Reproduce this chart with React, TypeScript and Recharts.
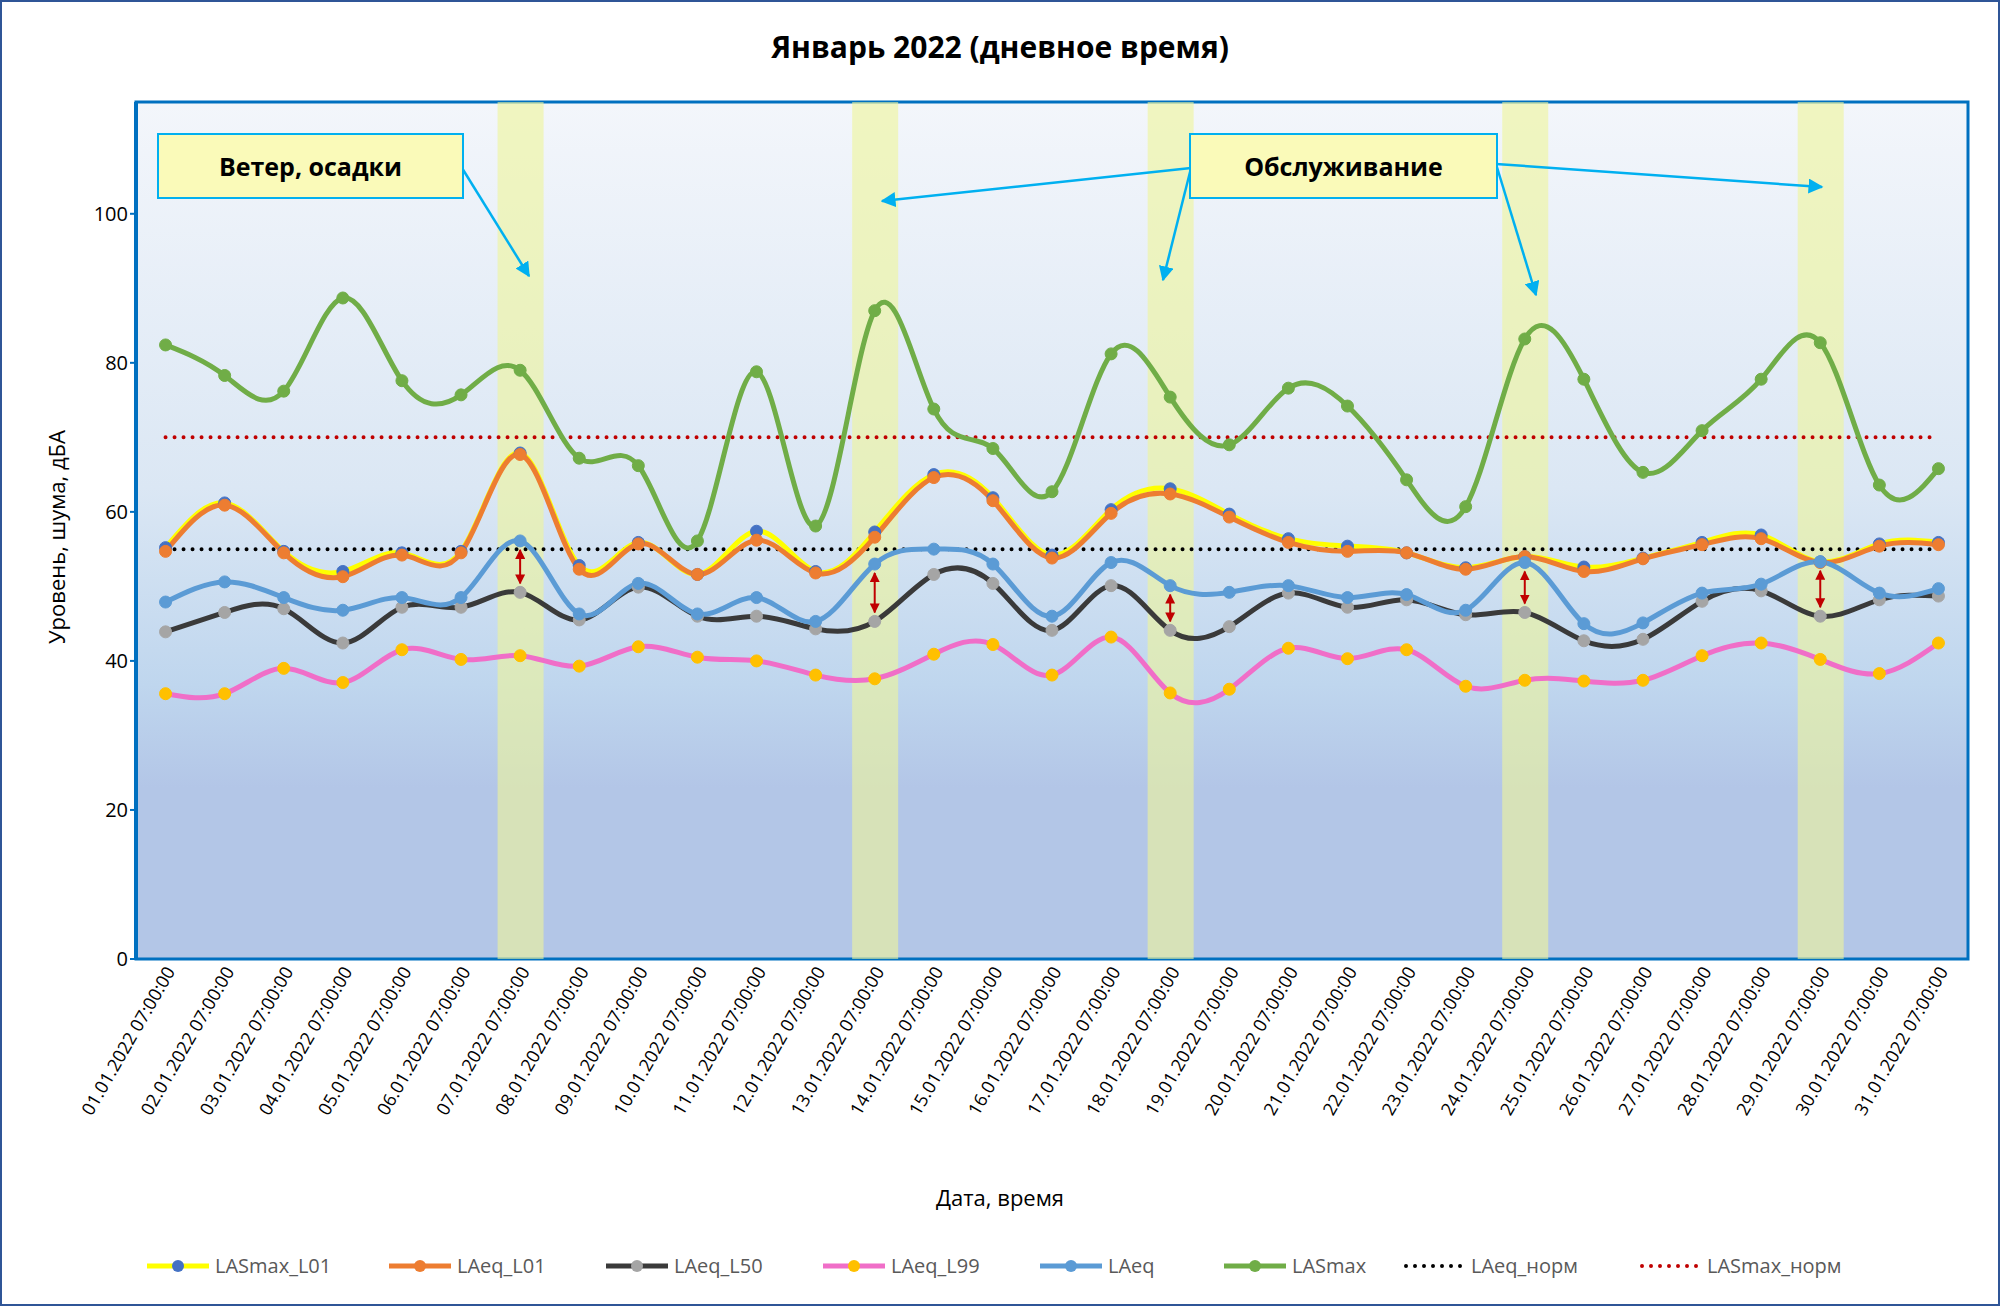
import React from "react";
import {
  ComposedChart,
  Line,
  Bar,
  XAxis,
  YAxis,
  CartesianGrid,
  ReferenceArea,
  ReferenceLine,
} from "recharts";

const days = Array.from({ length: 31 }, (_, i) => `${String(i + 1).padStart(2, "0")}.01.2022 07:00:00`);

const lasmaxL01 = [55.2, 61.2, 54.7, 52, 54.5, 54.7, 67.9, 52.8, 55.9, 51.6, 57.4, 52, 57.3, 65, 61.9, 54.2, 60.3, 63.1, 59.7, 56.4, 55.4, 54.5, 52.5, 54, 52.6, 53.8, 55.9, 56.9, 53.3, 55.7, 55.9];
const laeqL01 = [54.7, 60.9, 54.5, 51.3, 54.2, 54.5, 67.7, 52.3, 55.7, 51.6, 56.2, 51.8, 56.6, 64.6, 61.5, 53.8, 59.8, 62.4, 59.3, 55.9, 54.7, 54.5, 52.3, 54, 52, 53.7, 55.6, 56.4, 53.2, 55.4, 55.6];
const laeqL50 = [43.9, 46.5, 47, 42.4, 47.2, 47.2, 49.2, 45.5, 49.9, 46, 46, 44.3, 45.3, 51.6, 50.4, 44.1, 50.1, 44.1, 44.6, 49.1, 47.2, 48.2, 46.2, 46.5, 42.7, 42.9, 48, 49.4, 46, 48.2, 48.7];
const laeqL99 = [35.6, 35.6, 39, 37.1, 41.5, 40.2, 40.7, 39.3, 41.9, 40.5, 40, 38.1, 37.6, 40.9, 42.2, 38.1, 43.2, 35.7, 36.2, 41.7, 40.3, 41.5, 36.6, 37.4, 37.3, 37.4, 40.7, 42.4, 40.2, 38.3, 42.4];
const laeq = [47.9, 50.6, 48.5, 46.8, 48.5, 48.5, 56.1, 46.3, 50.4, 46.3, 48.5, 45.3, 53, 55, 53, 46, 53.2, 50.1, 49.2, 50.1, 48.5, 48.9, 46.8, 53.2, 45, 45.1, 49.1, 50.3, 53.3, 49.1, 49.7];
const lasmax = [82.4, 78.3, 76.2, 88.7, 77.6, 75.7, 79, 67.2, 66.2, 56.1, 78.8, 58.1, 87, 73.8, 68.5, 62.7, 81.2, 75.4, 69, 76.6, 74.2, 64.3, 60.7, 83.2, 77.8, 65.3, 70.9, 77.8, 82.7, 63.6, 65.8];
const laeqNorm = 55;
const lasmaxNorm = 70;
const highlightDays = [7, 13, 18, 24, 29];
const yMax = 115;
const yTicks = [0, 20, 40, 60, 80, 100];

const data = days.map((d, i) => ({
  day: d,
  lasmaxL01: lasmaxL01[i],
  laeqL01: laeqL01[i],
  laeqL50: laeqL50[i],
  laeqL99: laeqL99[i],
  laeq: laeq[i],
  lasmax: lasmax[i],
  laeqNorm,
  lasmaxNorm,
  band: highlightDays.includes(i + 1) ? yMax : 0,
}));

const series = [
  { key: "lasmaxL01", name: "LASmax_L01", line: "#ffff00", dot: "#4472c4" },
  { key: "laeqL01", name: "LAeq_L01", line: "#ed7d31", dot: "#ed7d31" },
  { key: "laeqL50", name: "LAeq_L50", line: "#3a3a3a", dot: "#a5a5a5" },
  { key: "laeqL99", name: "LAeq_L99", line: "#f06ec8", dot: "#ffc000" },
  { key: "laeq", name: "LAeq", line: "#5b9bd5", dot: "#5b9bd5" },
  { key: "lasmax", name: "LASmax", line: "#70ad47", dot: "#70ad47" },
];
const norms = [
  { key: "laeqNorm", name: "LAeq_норм", color: "#000000" },
  { key: "lasmaxNorm", name: "LASmax_норм", color: "#c00000" },
];

const font = "'Open Sans', sans-serif";

const XTick = (props: any) => {
  const { x, y, payload } = props;
  return (
    <text x={x + 6} y={y + 2} transform={`rotate(-60 ${x + 6} ${y + 2})`} textAnchor="end" fontSize={18} fill="#000" fontFamily={font} dominantBaseline="middle">
      {payload.value}
    </text>
  );
};

const arrows = [
  [460, 166, 527, 274],
  [1189, 166, 880, 199],
  [1189, 166, 1161, 278],
  [1494, 162, 1534, 293],
  [1494, 162, 1820, 185],
];

export default function App() {
  return (
    <div style={{ position: "absolute", left: 0, top: 0, width: 1996, height: 1302, border: "2px solid #2f5597", background: "#fff", fontFamily: font }}>
      <div style={{ position: "absolute", top: 24, width: "100%", textAlign: "center", fontSize: 30, fontWeight: 700 }}>Январь 2022 (дневное время)</div>
      <ComposedChart width={1996} height={1302} data={data} margin={{ top: 100, right: 30, left: 74, bottom: 145 }} barGap={0}>
        <defs>
          <linearGradient id="bg" x1="0" y1="0" x2="0" y2="1">
            <stop offset="0%" stopColor="#f3f6fb" />
            <stop offset="45%" stopColor="#dbe7f4" />
            <stop offset="68%" stopColor="#bfd6ee" />
            <stop offset="80%" stopColor="#b3c6e7" />
            <stop offset="100%" stopColor="#b3c6e7" />
          </linearGradient>
          <marker id="ah" viewBox="0 0 10 10" refX="9" refY="5" markerWidth="5" markerHeight="5" orient="auto-start-reverse">
            <path d="M0,0 L10,5 L0,10 z" fill="#c00000" />
          </marker>
        </defs>
        <XAxis xAxisId="grid" type="number" dataKey={() => 0} domain={[0, 31]} ticks={Array.from({ length: 32 }, (_, i) => i)} height={0} tick={{ fontSize: 0 }} tickSize={8} axisLine={{ stroke: "#0070c0", strokeWidth: 4 }} tickLine={{ stroke: "#0070c0", strokeWidth: 3 }} allowDataOverflow />
        <XAxis dataKey="day" interval={0} height={200} tick={<XTick />} axisLine={false} tickLine={false} />
        <YAxis domain={[0, yMax]} ticks={yTicks} width={60} tick={{ fontSize: 20, fill: "#000", fontFamily: font }} axisLine={{ stroke: "#0070c0", strokeWidth: 4 }} tickLine={{ stroke: "#0070c0", strokeWidth: 2 }} allowDataOverflow />
        <ReferenceArea xAxisId="grid" x1={0} x2={31} y1={0} y2={yMax} fill="url(#bg)" fillOpacity={1} stroke="#0070c0" strokeWidth={3} />
        <CartesianGrid xAxisId="grid" vertical={true} horizontal={false} stroke="#ffffff" strokeWidth={2} />
        <CartesianGrid xAxisId="grid" vertical={false} horizontal={true} stroke="#d0d0d0" strokeWidth={1} />
        <Bar dataKey="band" fill="#eef59a" fillOpacity={0.6} barSize={46} isAnimationActive={false} />
        {norms.map((n) => (
          <Line key={n.key} dataKey={n.key} stroke={n.color} strokeWidth={4} strokeDasharray="0 9" strokeLinecap="round" dot={false} isAnimationActive={false} />
        ))}
        {series.map((s) => (
          <Line key={s.key} type="natural" dataKey={s.key} stroke={s.line} strokeWidth={5} dot={{ r: 6, fill: s.dot, stroke: s.dot, strokeWidth: 1 }} isAnimationActive={false} />
        ))}
        {highlightDays.map((d) => (
          <ReferenceLine key={d} segment={[{ x: days[d - 1], y: laeq[d - 1] - 1.2 }, { x: days[d - 1], y: laeqL50[d - 1] + 1.2 }]} stroke="#c00000" strokeWidth={2} markerStart="url(#ah)" markerEnd="url(#ah)" />
        ))}
      </ComposedChart>
      <svg width={1996} height={1302} style={{ position: "absolute", left: 0, top: 0, pointerEvents: "none" }}>
        <defs>
          <marker id="ba" viewBox="0 0 10 10" refX="9" refY="5" markerWidth="6" markerHeight="6" orient="auto">
            <path d="M0,0 L10,5 L0,10 z" fill="#00b0f0" />
          </marker>
        </defs>
        {arrows.map(([x1, y1, x2, y2], i) => (
          <line key={i} x1={x1} y1={y1} x2={x2} y2={y2} stroke="#00b0f0" strokeWidth={2.5} markerEnd="url(#ba)" />
        ))}
      </svg>
      {[{ t: "Ветер, осадки", l: 155, w: 303 }, { t: "Обслуживание", l: 1187, w: 305 }].map((b) => (
        <div key={b.t} style={{ position: "absolute", left: b.l, top: 131, width: b.w, height: 62, border: "2px solid #00b0f0", background: "#fafab9", display: "flex", alignItems: "center", justifyContent: "center", fontSize: 25, fontWeight: 700 }}>{b.t}</div>
      ))}
      <div style={{ position: "absolute", left: 54, top: 535, transform: "translate(-50%,-50%) rotate(-90deg)", fontSize: 22, whiteSpace: "nowrap" }}>Уровень, шума, дБА</div>
      <div style={{ position: "absolute", left: 0, width: "100%", top: 1180, textAlign: "center", fontSize: 22 }}>Дата, время</div>
      <div style={{ position: "absolute", top: 1250, left: 145, display: "flex", gap: 0, fontSize: 20, color: "#595959" }}>
        {series.map((s, i) => (
          <div key={s.key} style={{ display: "flex", alignItems: "center", width: [242, 217, 217, 217, 184, 179][i] }}>
            <svg width={62} height={20}><line x1={0} y1={10} x2={62} y2={10} stroke={s.line} strokeWidth={5} /><circle cx={31} cy={10} r={6} fill={s.dot} /></svg>
            <span style={{ marginLeft: 6 }}>{s.name}</span>
          </div>
        ))}
        {norms.map((n, i) => (
          <div key={n.key} style={{ display: "flex", alignItems: "center", width: i === 0 ? 236 : 230 }}>
            <svg width={62} height={20}><line x1={3} y1={10} x2={60} y2={10} stroke={n.color} strokeWidth={4} strokeDasharray="0 9" strokeLinecap="round" /></svg>
            <span style={{ marginLeft: 6 }}>{n.name}</span>
          </div>
        ))}
      </div>
    </div>
  );
}
